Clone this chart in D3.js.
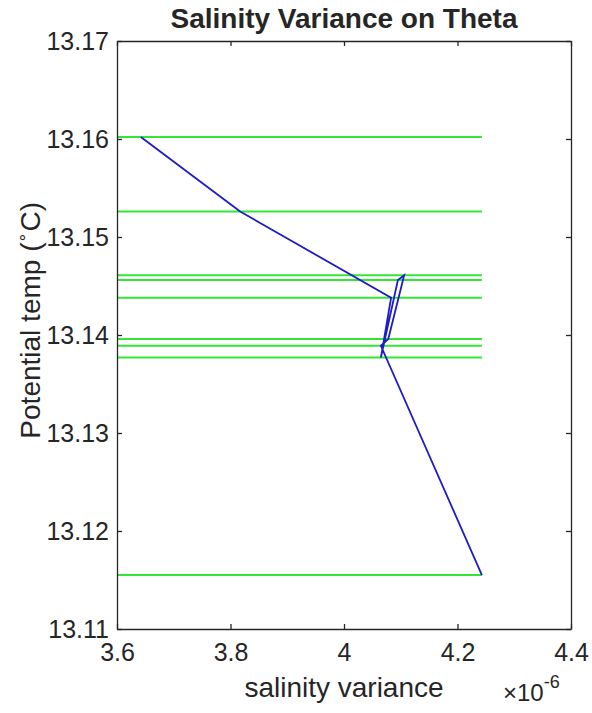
<!DOCTYPE html>
<html>
<head>
<meta charset="utf-8">
<script src="https://cdn.jsdelivr.net/npm/d3@7"></script>
<style>
  body { margin: 0; background: #fff; }
  text { font-family: "Liberation Sans", Arial, sans-serif; fill: #262626; }
</style>
</head>
<body>
<script>
// salinity variance (x 1e-6) and theta, in profile order
var salVar = [3.642, 3.817, 4.083, 4.065, 4.095, 4.106, 4.078, 4.065, 4.243];
var theta  = [13.1602, 13.1526, 13.1438, 13.1377, 13.1456, 13.1461, 13.1396, 13.1389, 13.1155];
var xTicks = [3.6, 3.8, 4, 4.2, 4.4];
var yTicks = [13.11, 13.12, 13.13, 13.14, 13.15, 13.16, 13.17];

var width = 592, height = 713;
var margin = {left:117, right:21, top:41, bottom:84};

var svg = d3.select("body").append("svg").attr("width",width).attr("height",height);

var x = d3.scaleLinear().domain([3.6,4.4]).range([margin.left, width-margin.right]);
var y = d3.scaleLinear().domain([13.11,13.17]).range([height-margin.bottom, margin.top]);

var data = salVar.map(function(d,i){ return {x:d, y:theta[i]}; });
var maxX = d3.max(salVar);

// green level lines
svg.append("g").selectAll("line").data(theta).enter().append("line")
    .attr("x1", x(3.6)).attr("x2", x(maxX))
    .attr("y1", function(d){ return y(d); }).attr("y2", function(d){ return y(d); })
    .attr("stroke","#33e633").attr("stroke-width",2);

var line = d3.line()
    .x(function(d){ return x(d.x); })
    .y(function(d){ return y(d.y); });

svg.append("path").attr("fill","none").attr("stroke","#1c1cc8").attr("stroke-width",1.8)
    .attr("d", line(data));

// axes, MATLAB style box with inward ticks
var fmtX = function(d){ return String(d); };
var xAxis = d3.axisBottom(x).tickValues(xTicks).tickSizeInner(-5).tickSizeOuter(0).tickPadding(14).tickFormat(fmtX);
var xTop = d3.axisTop(x).tickValues(xTicks).tickSizeInner(-5).tickSizeOuter(0).tickFormat("");
var yAxis = d3.axisLeft(y).tickValues(yTicks).tickSizeInner(-5).tickSizeOuter(0).tickPadding(8).tickFormat(d3.format(".2f"));
var yRight = d3.axisRight(y).tickValues(yTicks).tickSizeInner(-5).tickSizeOuter(0).tickFormat("");

function style(g){
  g.selectAll("path").attr("stroke","#262626").attr("stroke-width",1.3);
  g.selectAll("line").attr("stroke","#262626").attr("stroke-width",1.3);
  g.selectAll("text").attr("font-size",25).attr("font-family","Liberation Sans, Arial, sans-serif").attr("fill","#262626");
}

svg.append("g").attr("transform","translate(0,"+(height-margin.bottom)+")").call(xAxis).call(style);
svg.append("g").attr("transform","translate(0,"+margin.top+")").call(xTop).call(style);
svg.append("g").attr("transform","translate("+margin.left+",0)").call(yAxis).call(style);
svg.append("g").attr("transform","translate("+(width-margin.right)+",0)").call(yRight).call(style);

var cx = (margin.left + width - margin.right)/2;

svg.append("text").attr("x",cx).attr("y",28).attr("text-anchor","middle")
    .attr("font-size",28).attr("font-weight","bold").text("Salinity Variance on Theta");

svg.append("text").attr("x",cx).attr("y",697).attr("text-anchor","middle")
    .attr("font-size",28).text("salinity variance");

var ex = svg.append("text").attr("x",503).attr("y",701).attr("font-size",24);
ex.append("tspan").text("\u00d710");
ex.append("tspan").attr("dy",-13).attr("font-size",18).text("-6");

var yl = svg.append("text").attr("transform","translate(40,"+(y(13.1415))+") rotate(-90)")
    .attr("text-anchor","middle").attr("font-size",28);
yl.append("tspan").text("Potential temp (");
yl.append("tspan").attr("dy",-13).attr("font-size",17).text("\u2218");
yl.append("tspan").attr("dy",13).text("C)");
</script>
</body>
</html>
